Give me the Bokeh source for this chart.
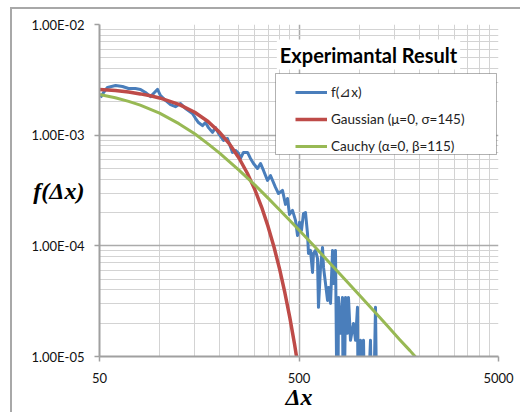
from bokeh.plotting import figure
from bokeh.models import (FixedTicker, CustomJSTickFormatter, Label, Legend, LegendItem,
                          BoxAnnotation, Range1d)
from bokeh.embed import file_html
from bokeh.resources import INLINE

# ---------------- data ----------------
ZERO = 1e-6  # empty bins (drawn below the axis floor)

blue_x = [50.6, 52.4, 54.8, 60.2, 65.2, 69.9, 75.7, 80.3, 85.0, 90.1,
          94.3, 97.7, 101.1, 107.1, 113.5, 120.2, 127.3, 134.9, 146.2, 151.4,
          156.7, 164.1, 169.9, 175.9, 184.2, 190.7, 197.5, 209.2, 219.0, 232.1,
          240.3, 248.7, 254.5, 263.4, 275.9, 285.6, 295.7, 309.7, 320.6, 331.9,
          347.6, 359.8, 381.2, 394.6, 413.2, 427.8, 437.9, 448, 463.9,
          480.2, 491.5, 502.9, 514.5, 526.6, 539, 551.6, 557.9, 571, 584.5,
          591, 605, 619, 626, 641, 656, 663.6, 679, 695, 702.8,
          719.6, 736.4, 744.7, 762, 780, 788.9, 807.2, 826, 835.8, 855.3,
          875.3, 885, 906, 938, 960, 982, 994, 1017, 1041, 1053,
          1077, 1141, 1168, 1209, 1237]
blue_y = [2.19e-3, 2.43e-3, 2.70e-3, 2.81e-3, 2.75e-3, 2.64e-3, 2.64e-3, 2.59e-3, 2.43e-3, 2.23e-3,
          2.43e-3, 2.59e-3, 2.28e-3, 2.06e-3, 1.89e-3, 1.81e-3, 1.93e-3, 1.74e-3, 1.57e-3, 1.42e-3,
          1.30e-3, 1.22e-3, 1.30e-3, 1.17e-3, 1.06e-3, 1.17e-3, 1.04e-3, 8.96e-4, 9.34e-4, 6.98e-4,
          7.28e-4, 6.84e-4, 6.16e-4, 6.98e-4, 6.98e-4, 6.16e-4, 5.55e-4, 5.00e-4, 5.55e-4, 4.80e-4,
          3.90e-4, 4.32e-4, 3.37e-4, 2.97e-4, 3.17e-4, 2.37e-4, 2.68e-4, 1.92e-4, 2.09e-4,
          1.70e-4, 1.24e-4, 1.63e-4, 1.38e-4, 1.96e-4, 2.00e-4, 1.29e-4, 8.54e-5, 9.09e-5, 5.75e-5,
          8.54e-5, 9.09e-5, 7.69e-5, 2.78e-5, 6.38e-5, 9.67e-5, 6.38e-5, 4.57e-5, 3.21e-5, 4.21e-5,
          3.02e-5, 9.09e-5, 4.57e-5, 9.09e-5, ZERO, 3.42e-5, 1.62e-5, 3.42e-5, ZERO, 3.42e-5,
          1.62e-5, 3.42e-5, 1.40e-5, 1.99e-5, 1.40e-5, 2.78e-5, ZERO, 1.40e-5, ZERO, 1.40e-5,
          ZERO, 1.40e-5, ZERO, 2.78e-5, ZERO]

gauss_x = [50, 55, 60, 70, 80, 90, 100, 125, 150, 175, 200, 225, 250, 275, 300,
           325, 350, 375, 400, 425, 450, 475, 500]
gauss_y = [2.59e-3, 2.56e-3, 2.53e-3, 2.45e-3, 2.36e-3, 2.27e-3, 2.17e-3, 1.90e-3, 1.61e-3,
           1.33e-3, 1.06e-3, 8.25e-4, 6.22e-4, 4.55e-4, 3.24e-4, 2.23e-4, 1.49e-4, 9.71e-5,
           6.12e-5, 3.75e-5, 2.23e-5, 1.29e-5, 7.2e-6]

cauchy_x = [50, 60, 70, 80, 100, 125, 150, 175, 200, 250, 300, 350, 400, 500, 600, 700,
            800, 1000, 1200, 1400, 1600, 1800, 2000]
cauchy_y = [2.33e-3, 2.18e-3, 2.02e-3, 1.87e-3, 1.58e-3, 1.27e-3, 1.03e-3, 8.35e-4, 6.88e-4,
            4.83e-4, 3.55e-4, 2.70e-4, 2.11e-4, 1.39e-4, 9.81e-5, 7.27e-5, 5.60e-5, 3.61e-5,
            2.52e-5, 1.86e-5, 1.42e-5, 1.13e-5, 9.1e-6]

series_labels = ["f(\u22bfx)", "Gaussian (\u03bc=0, \u03c3=145)", "Cauchy (\u03b1=0, \u03b2=115)"]
title_text = "Experimantal Result"
x_title = "\u0394x"
y_title = "f(\u0394x)"

x_ticks = [50, 500, 5000]
x_tick_labels = ["50", "500", "5000"]
y_ticks = [1e-5, 1e-4, 1e-3, 1e-2]
y_tick_labels = ["1.00E-05", "1.00E-04", "1.00E-03", "1.00E-02"]

# ---------------- layout ----------------
W, H = 520, 412
FL, FR, FT, FB = 99, 498, 24, 356   # frame edges in canvas px
X0, X1, Y0, Y1 = 50, 5000, 1e-5, 1e-2

def xdata(cx):
    return X0 * (X1 / X0) ** ((cx - FL) / (FR - FL))

def ydata(cy):
    return Y0 * (Y1 / Y0) ** ((FB - cy) / (FB - FT))

p = figure(width=W, height=H, x_axis_type="log", y_axis_type="log",
           x_range=Range1d(X0, X1), y_range=Range1d(Y0, Y1),
           output_backend="svg", toolbar_location=None,
           min_border_left=FL, min_border_right=W - FR,
           min_border_top=FT, min_border_bottom=H - FB)
p.outline_line_color = None
p.background_fill_color = "white"
p.border_fill_color = "white"
p.border_fill_alpha = 0
# thin grey chart-area frame (left and top edges), drawn behind the transparent canvas border
p.styles = {
    "background-color": "white",
    "background-image": "linear-gradient(#A8A8A8, #A8A8A8), linear-gradient(#A8A8A8, #A8A8A8)",
    "background-size": "2px 100%, 100% 2px",
    "background-position": "10px 7px, 10px 7px",
    "background-repeat": "no-repeat",
}

x_minor = [m * d for d in (50, 500) for m in range(2, 10)]
y_minor = [m * d for d in (1e-5, 1e-4, 1e-3) for m in range(2, 10)]
xt = FixedTicker(ticks=x_ticks, minor_ticks=x_minor)
yt = FixedTicker(ticks=y_ticks, minor_ticks=y_minor)
p.xaxis.ticker = xt
p.yaxis.ticker = yt
p.xgrid.ticker = xt
p.ygrid.ticker = yt

fmt_code = """
let best = 0, d = Infinity;
for (let i = 0; i < tvals.length; i++) {
  const dd = Math.abs(Math.log(tick) - Math.log(tvals[i]));
  if (dd < d) { d = dd; best = i; }
}
return tlabels[best];
"""
p.xaxis.formatter = CustomJSTickFormatter(args=dict(tvals=x_ticks, tlabels=x_tick_labels), code=fmt_code)
p.yaxis.formatter = CustomJSTickFormatter(args=dict(tvals=y_ticks, tlabels=y_tick_labels), code=fmt_code)

for g in (p.xgrid[0], p.ygrid[0]):
    g.grid_line_color = "#ABABAB"
    g.grid_line_width = 1.5
    g.minor_grid_line_color = "#D3D3D3"
    g.minor_grid_line_width = 1

for ax in (p.xaxis[0], p.yaxis[0]):
    ax.axis_line_color = "#A0A0A0"
    ax.axis_line_width = 2
    ax.major_tick_line_color = "#A0A0A0"
    ax.major_tick_line_width = 1.5
    ax.major_tick_in = 0
    ax.major_tick_out = 5
    ax.minor_tick_line_color = None
    ax.major_label_text_font = "Lato"
    ax.major_label_text_font_size = "13px"
    ax.major_label_text_color = "#111111"
    ax.axis_label_text_font = "Liberation Serif"
    ax.axis_label_text_font_style = "bold italic"
    ax.axis_label_text_color = "black"
    ax.axis_label_text_font_size = "24px"
p.yaxis.major_label_standoff = 10
p.xaxis.major_label_standoff = 11

p.xaxis.axis_label = x_title
p.xaxis.axis_label_standoff = -2
p.yaxis.axis_label = y_title
p.yaxis.axis_label_orientation = "horizontal"
p.yaxis.axis_label_standoff = -56

r_blue = p.line(blue_x, blue_y, line_color="#4A7EBB", line_width=3, line_join="round")
r_red = p.line(gauss_x, gauss_y, line_color="#BE4B48", line_width=3.5, line_join="round")
r_green = p.line(cauchy_x, cauchy_y, line_color="#98B954", line_width=3, line_join="round")

# title inside the plot
p.add_layout(Label(x=X0, y=Y0, x_offset=269, y_offset=302, text=title_text,
                   text_font="Lato", text_font_style="bold", text_font_size="20px",
                   text_align="center", text_baseline="alphabetic", text_color="black",
                   background_fill_color="white", padding=3))

# legend box
p.add_layout(BoxAnnotation(left=xdata(275), right=xdata(496), top=ydata(73), bottom=ydata(154),
                           fill_color="white", fill_alpha=1, line_color="black", line_width=1))
legend = Legend(items=[LegendItem(label=series_labels[0], renderers=[r_blue]),
                       LegendItem(label=series_labels[1], renderers=[r_red]),
                       LegendItem(label=series_labels[2], renderers=[r_green])],
                location=(196, 200), padding=4, spacing=7, margin=0,
                glyph_width=32, glyph_height=20, label_height=20, label_standoff=4,
                label_text_font="Lato", label_text_font_size="13.5px", label_text_color="#222222",
                background_fill_alpha=0, border_line_color=None)
p.add_layout(legend)

open("out.html", "w").write(file_html(p, INLINE))
